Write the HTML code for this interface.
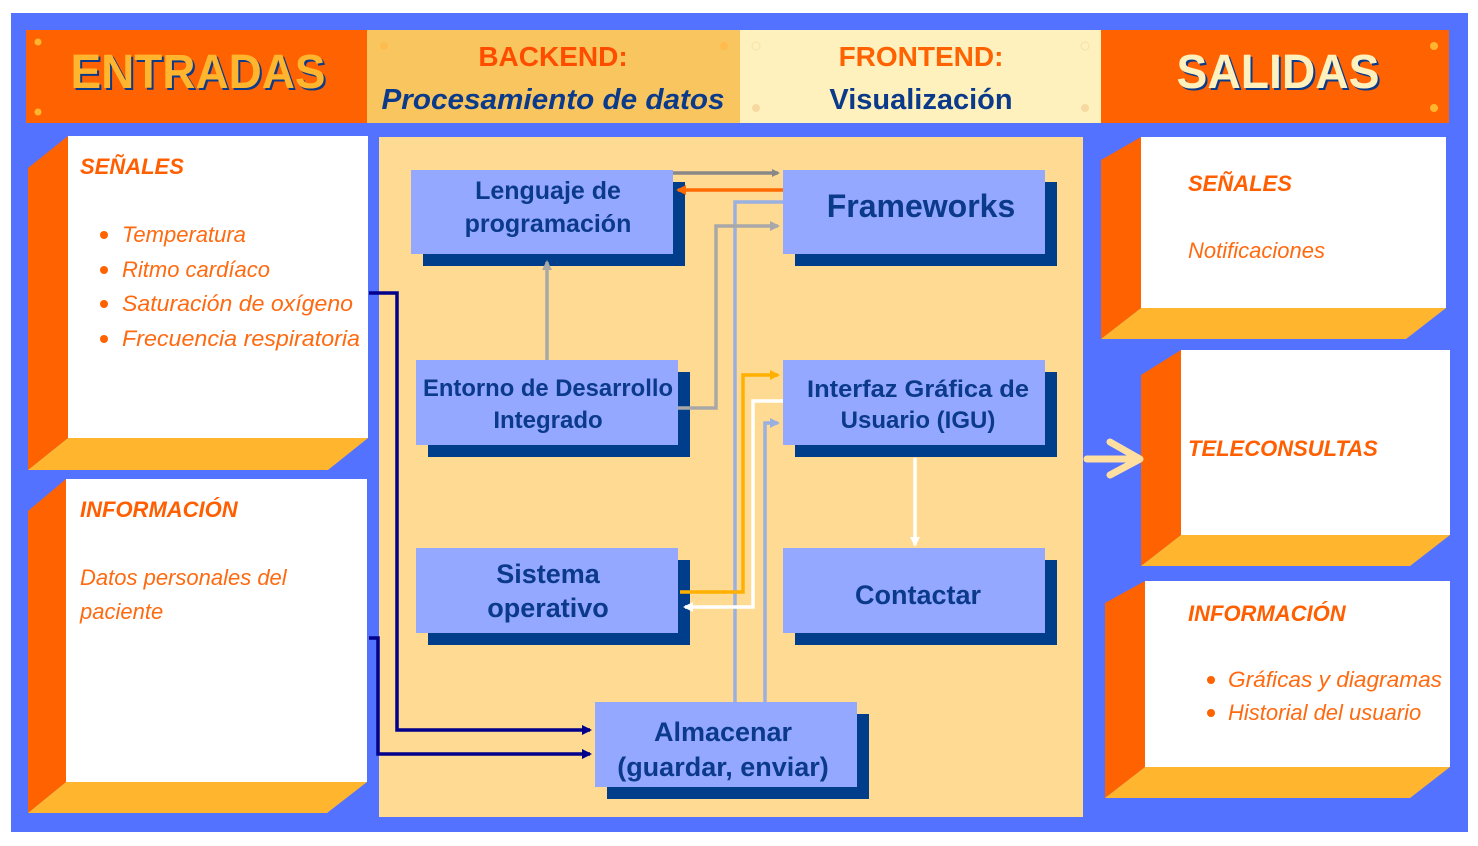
<!DOCTYPE html>
<html><head><meta charset="utf-8"><style>
html,body{margin:0;padding:0;background:#fff;}
svg{display:block;}
text{font-family:"Liberation Sans",sans-serif;}
.bx{font-weight:bold;fill:#0B3A8A;font-size:24px;text-anchor:middle;}
.h{font-weight:bold;font-style:italic;fill:#FF5F00;font-size:22px;}
.it{font-style:italic;fill:#FF6A10;font-size:22px;}
</style></head><body>
<svg width="1478" height="846" viewBox="0 0 1478 846">
<defs>
<marker id="ag" markerWidth="8" markerHeight="8" refX="6" refY="4" orient="auto" markerUnits="userSpaceOnUse"><path d="M0,0 L8,4 L0,8z" fill="#888"/></marker>
<marker id="ag2" markerWidth="10" markerHeight="10" refX="8" refY="5" orient="auto" markerUnits="userSpaceOnUse"><path d="M0,0 L10,5 L0,10z" fill="#A8A8A8"/></marker>
<marker id="ao" markerWidth="10" markerHeight="10" refX="8" refY="5" orient="auto" markerUnits="userSpaceOnUse"><path d="M0,0 L10,5 L0,10z" fill="#FF6A00"/></marker>
<marker id="ay" markerWidth="10" markerHeight="10" refX="8" refY="5" orient="auto" markerUnits="userSpaceOnUse"><path d="M0,0 L10,5 L0,10z" fill="#FFB000"/></marker>
<marker id="aw" markerWidth="10" markerHeight="10" refX="8" refY="5" orient="auto" markerUnits="userSpaceOnUse"><path d="M0,0 L10,5 L0,10z" fill="#fff"/></marker>
<marker id="ab" markerWidth="10" markerHeight="10" refX="8" refY="5" orient="auto" markerUnits="userSpaceOnUse"><path d="M0,0 L10,5 L0,10z" fill="#9AB0E0"/></marker>
<marker id="an" markerWidth="10" markerHeight="10" refX="8" refY="5" orient="auto" markerUnits="userSpaceOnUse"><path d="M0,0 L10,5 L0,10z" fill="#00008B"/></marker>
</defs>
<rect x="11" y="13" width="1457" height="819" fill="#5372FF"/>
<rect x="26" y="30" width="341" height="93" fill="#FF6200"/>
<rect x="367" y="30" width="373" height="93" fill="#F9C55F"/>
<rect x="740" y="30" width="361" height="93" fill="#FFF1BE"/>
<rect x="1101" y="30" width="348" height="93" fill="#FF6200"/>
<g fill="#FFB52E"><circle cx="38" cy="42" r="3.5"/><circle cx="38" cy="112" r="3.5"/><circle cx="1434" cy="46" r="4"/><circle cx="1434" cy="108" r="4"/></g>
<g fill="#FFB84A" opacity=".8"><circle cx="384" cy="46" r="4"/><circle cx="724" cy="46" r="4"/></g>
<g fill="none" stroke="#F5E0A8"><circle cx="756" cy="46" r="4"/><circle cx="1085" cy="46" r="4"/></g>
<g fill="#F5D9A0"><circle cx="756" cy="108" r="4"/><circle cx="1085" cy="108" r="4"/></g>
<text x="200" y="90" font-size="48" font-weight="bold" text-anchor="middle" fill="#0B3A8A" textLength="255" lengthAdjust="spacingAndGlyphs">ENTRADAS</text>
<text x="198" y="88" font-size="48" font-weight="bold" text-anchor="middle" fill="#FFB52E" textLength="255" lengthAdjust="spacingAndGlyphs">ENTRADAS</text>
<text x="553" y="66" font-size="28" font-weight="bold" text-anchor="middle" fill="#FF4D00">BACKEND:</text>
<text x="553" y="109" font-size="29" font-weight="bold" font-style="italic" text-anchor="middle" fill="#0B3A8A" textLength="343" lengthAdjust="spacingAndGlyphs">Procesamiento de datos</text>
<text x="921" y="66" font-size="28" font-weight="bold" text-anchor="middle" fill="#FF6200">FRONTEND:</text>
<text x="921" y="109" font-size="29" font-weight="bold" text-anchor="middle" fill="#0B3A8A">Visualización</text>
<text x="1280" y="90" font-size="48" font-weight="bold" text-anchor="middle" fill="#0B3A8A" textLength="203" lengthAdjust="spacingAndGlyphs">SALIDAS</text>
<text x="1278" y="88" font-size="48" font-weight="bold" text-anchor="middle" fill="#FFF1BE" textLength="203" lengthAdjust="spacingAndGlyphs">SALIDAS</text>
<polygon points="28,168 68,136 68,438 28,470" fill="#FF6200"/>
<polygon points="68,438 368,438 328,470 28,470" fill="#FFB52E"/>
<rect x="68" y="136" width="300" height="302" fill="#fff"/>
<polygon points="28,511 66,479 66,782 28,813" fill="#FF6200"/>
<polygon points="66,782 367,782 327,813 28,813" fill="#FFB52E"/>
<rect x="66" y="479" width="301" height="303" fill="#fff"/>
<text x="80" y="174" class="h">SEÑALES</text>
<g fill="#FF6200"><circle cx="104" cy="235" r="4"/><circle cx="104" cy="270" r="4"/><circle cx="104" cy="304" r="4"/><circle cx="104" cy="339" r="4"/></g>
<text x="122" y="242" class="it">Temperatura</text>
<text x="122" y="277" class="it">Ritmo cardíaco</text>
<text x="122" y="311" class="it" textLength="231" lengthAdjust="spacingAndGlyphs">Saturación de oxígeno</text>
<text x="122" y="346" class="it" textLength="238" lengthAdjust="spacingAndGlyphs">Frecuencia respiratoria</text>
<text x="80" y="517" class="h">INFORMACIÓN</text>
<text x="80" y="585" class="it">Datos personales del</text>
<text x="80" y="619" class="it">paciente</text>
<polygon points="1101,160 1141,137 1141,308 1101,339" fill="#FF6200"/>
<polygon points="1141,308 1446,308 1406,339 1101,339" fill="#FFB52E"/>
<rect x="1141" y="137" width="305" height="171" fill="#fff"/>
<polygon points="1141,375 1181,350 1181,535 1141,566" fill="#FF6200"/>
<polygon points="1181,535 1450,535 1410,566 1141,566" fill="#FFB52E"/>
<rect x="1181" y="350" width="269" height="185" fill="#fff"/>
<polygon points="1105,603 1145,581 1145,767 1105,798" fill="#FF6200"/>
<polygon points="1145,767 1450,767 1410,798 1105,798" fill="#FFB52E"/>
<rect x="1145" y="581" width="305" height="186" fill="#fff"/>
<text x="1188" y="191" class="h">SEÑALES</text>
<text x="1188" y="258" class="it">Notificaciones</text>
<text x="1188" y="456" class="h">TELECONSULTAS</text>
<text x="1188" y="621" class="h">INFORMACIÓN</text>
<g fill="#FF6200"><circle cx="1211" cy="680" r="4"/><circle cx="1211" cy="713" r="4"/></g>
<text x="1228" y="687" class="it" textLength="214" lengthAdjust="spacingAndGlyphs">Gráficas y diagramas</text>
<text x="1228" y="720" class="it">Historial del usuario</text>
<path d="M1087,459 H1138 M1110,442 L1140,459 L1110,475" fill="none" stroke="#FFE0A0" stroke-width="7" stroke-linecap="round" stroke-linejoin="round"/>
<rect x="379" y="137" width="704" height="680" fill="#FFDA92"/>
<g fill="#003E8C">
<rect x="423" y="182" width="262" height="84"/><rect x="795" y="182" width="262" height="84"/>
<rect x="428" y="372" width="262" height="85"/><rect x="795" y="372" width="262" height="85"/>
<rect x="428" y="560" width="262" height="85"/><rect x="795" y="560" width="262" height="85"/>
<rect x="607" y="714" width="262" height="85"/>
</g>
<g fill="#94A8FF">
<rect x="411" y="170" width="262" height="84"/><rect x="783" y="170" width="262" height="84"/>
<rect x="416" y="360" width="262" height="85"/><rect x="783" y="360" width="262" height="85"/>
<rect x="416" y="548" width="262" height="85"/><rect x="783" y="548" width="262" height="85"/>
<rect x="595" y="702" width="262" height="85"/>
</g>
<g fill="none" stroke-width="3.5">
<path d="M673,173 H778" stroke="#888" marker-end="url(#ag)"/>
<path d="M783,190 H678" stroke="#FF6A00" marker-end="url(#ao)"/>
<path d="M783,202 H735 V702" stroke="#9AB0E0"/>
<path d="M678,408 H716 V226 H778" stroke="#A8A8A8" marker-end="url(#ag2)"/>
<path d="M547,360 V262" stroke="#A8A8A8" marker-end="url(#ag2)"/>
<path d="M680,592 H743 V375 H778" stroke="#FFB000" marker-end="url(#ay)"/>
<path d="M783,401 H753 V607 H685" stroke="#fff" marker-end="url(#aw)"/>
<path d="M765,702 V423 H778" stroke="#9AB0E0" marker-end="url(#ab)"/>
<path d="M915,458 V545" stroke="#fff" marker-end="url(#aw)"/>
<path d="M369,293 H397 V730 H590" stroke="#00008B" marker-end="url(#an)"/>
<path d="M369,638 H378 V754 H590" stroke="#00008B" marker-end="url(#an)"/>
</g>
<text x="548" y="199" class="bx" style="font-size:25px">Lenguaje de</text>
<text x="548" y="232" class="bx" style="font-size:25px">programación</text>
<text x="921" y="217" class="bx" style="font-size:32px">Frameworks</text>
<text x="548" y="396" class="bx" textLength="250" lengthAdjust="spacingAndGlyphs">Entorno de Desarrollo</text>
<text x="548" y="428" class="bx">Integrado</text>
<text x="918" y="397" class="bx" textLength="222" lengthAdjust="spacingAndGlyphs">Interfaz Gráfica de</text>
<text x="918" y="428" class="bx">Usuario (IGU)</text>
<text x="548" y="583" class="bx" style="font-size:27px">Sistema</text>
<text x="548" y="617" class="bx" style="font-size:27px">operativo</text>
<text x="918" y="604" class="bx" style="font-size:27px">Contactar</text>
<text x="723" y="741" class="bx" style="font-size:27px">Almacenar</text>
<text x="723" y="776" class="bx" style="font-size:27px">(guardar, enviar)</text>
</svg>
</body></html>
